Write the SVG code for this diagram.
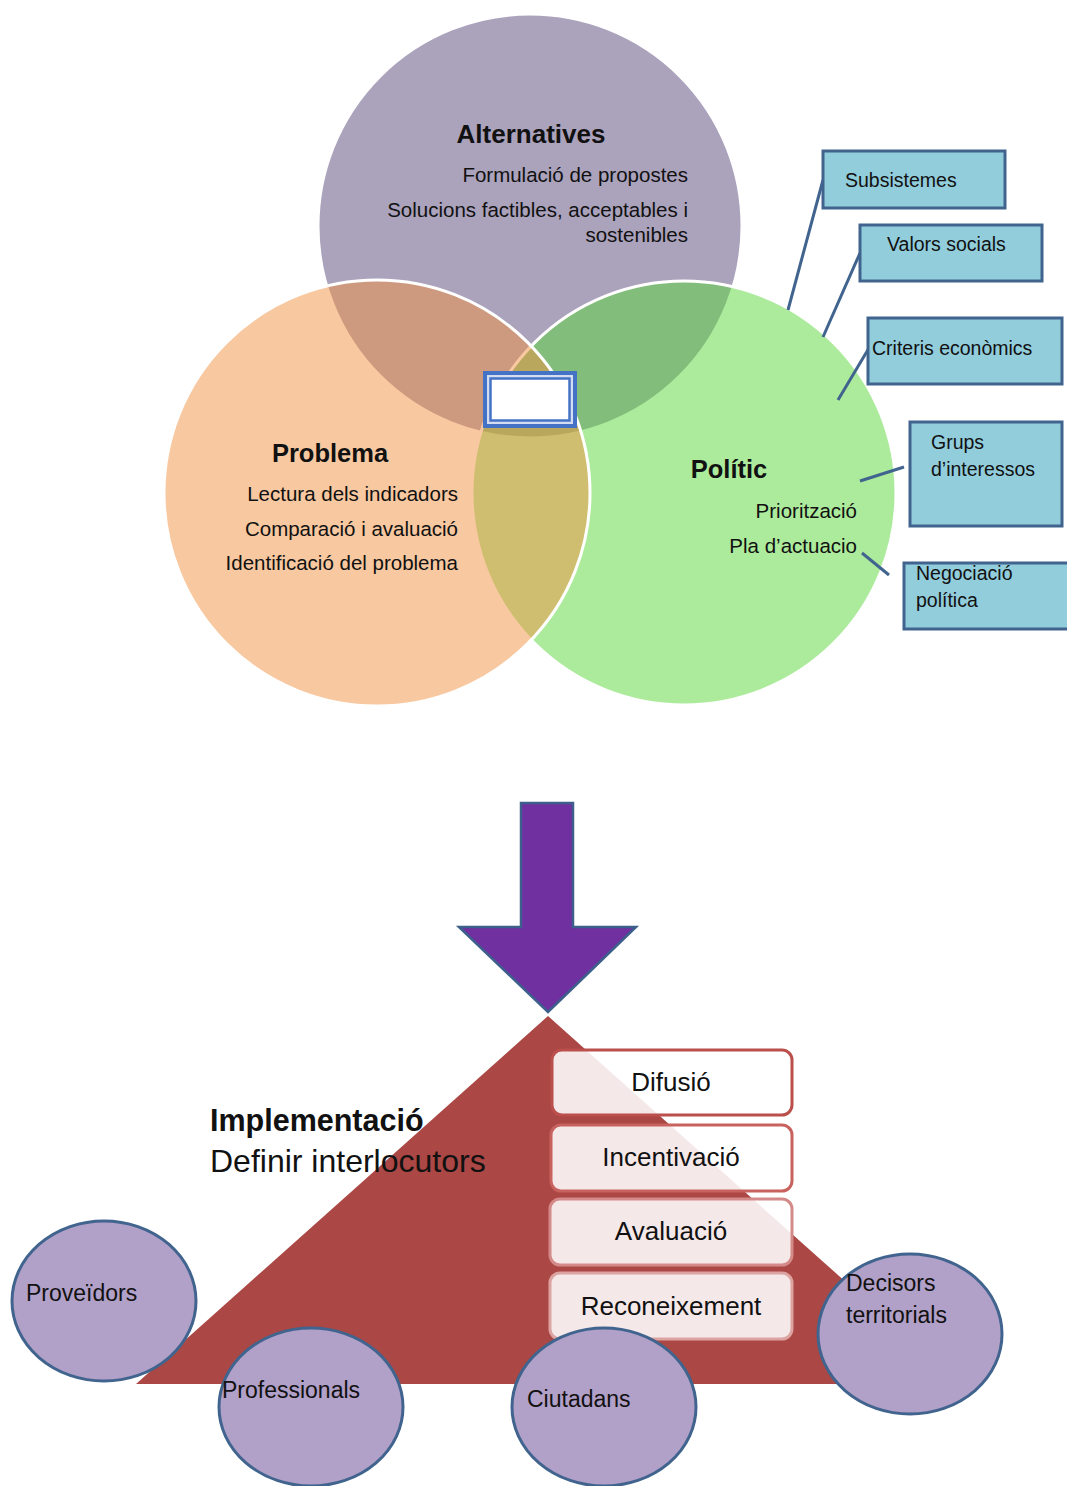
<svg xmlns="http://www.w3.org/2000/svg" width="1067" height="1486" viewBox="0 0 1067 1486">
<style>
text{font-family:"Liberation Sans",Arial,sans-serif;fill:#111}
.venn{fill-opacity:.5;stroke:#fff;stroke-width:3}
.hd{font-weight:bold;font-size:25.5px;text-anchor:middle}
.ln{font-size:20.5px;text-anchor:end}
.callout{fill:#92CDDC;stroke:#41648F;stroke-width:3}
.ct{font-size:19.5px}
.conn{stroke:#41648F;stroke-width:3;fill:none}
.actor{fill:#B1A0C7;stroke:#41648F;stroke-width:3}
.at{font-size:23px}
.step{fill:#fff;fill-opacity:.88;stroke-width:3}
.st{font-size:26px;text-anchor:middle}
</style>
<rect width="1067" height="1486" fill="#fff"/>
<g id="alternatives">
<circle class="venn" cx="530" cy="226" r="212" fill="#574579"/>
</g>
<g id="politic">
<circle class="venn" cx="684" cy="493" r="212" fill="#5BD739"/>
</g>
<g id="problema">
<circle class="venn" cx="377" cy="493" r="213" fill="#F19141"/>
</g>
<g id="alternatives-text">
<text class="hd" x="531" y="143" style="font-size:26px">Alternatives</text>
<text class="ln" x="688" y="182">Formulació de propostes</text>
<text class="ln" x="688" y="217">Solucions factibles, acceptables i</text>
<text class="ln" x="688" y="242">sostenibles</text>
</g>
<g id="problema-text">
<text class="hd" x="330" y="462">Problema</text>
<text class="ln" x="458" y="501">Lectura dels indicadors</text>
<text class="ln" x="458" y="536">Comparació i avaluació</text>
<text class="ln" x="458" y="570">Identificació del problema</text>
</g>
<g id="politic-text">
<text class="hd" x="729" y="478">Polític</text>
<text class="ln" x="857" y="518">Priorització</text>
<text class="ln" x="857" y="553">Pla d’actuacio</text>
</g>
<g id="center-box">
<rect x="483" y="371" width="94" height="57" fill="#4472C4"/>
<rect x="487" y="375" width="86" height="49" fill="#D4DCF2"/>
<rect x="490.5" y="378.5" width="79" height="42" fill="#fff" stroke="#4472C4" stroke-width="2.5"/>
</g>
<g id="connectors">
<line class="conn" x1="823" y1="180" x2="788" y2="310"/>
<line class="conn" x1="860" y1="253" x2="823" y2="337"/>
<line class="conn" x1="869" y1="348" x2="838" y2="400"/>
<line class="conn" x1="904" y1="467" x2="860" y2="481"/>
<line class="conn" x1="889" y1="575" x2="862" y2="553"/>
</g>
<g id="subsistemes">
<rect class="callout" x="823" y="151" width="182" height="57"/>
<text class="ct" x="845" y="187">Subsistemes</text>
</g>
<g id="valors-socials">
<rect class="callout" x="860" y="225" width="182" height="56"/>
<text class="ct" x="887" y="251">Valors socials</text>
</g>
<g id="criteris-economics">
<rect class="callout" x="868" y="318" width="194" height="66"/>
<text class="ct" x="872" y="355">Criteris econòmics</text>
</g>
<g id="grups-interessos">
<rect class="callout" x="910" y="422" width="152" height="104"/>
<text class="ct" x="931" y="449">Grups</text>
<text class="ct" x="931" y="476">d’interessos</text>
</g>
<g id="negociacio-politica">
<rect class="callout" x="904" y="563" width="170" height="66"/>
<text class="ct" x="916" y="580">Negociació</text>
<text class="ct" x="916" y="607">política</text>
</g>
<g id="arrow">
<polygon points="521,803 573,803 573,927 636,927 548,1012 459,927 521,927" fill="#7030A0" stroke="#3C5F8C" stroke-width="2.5"/>
</g>
<g id="pyramid">
<polygon points="548,1016 960,1384 136,1384" fill="#AB4744"/>
<text x="210" y="1131" style="font-weight:bold;font-size:30.5px">Implementació</text>
<text x="210" y="1172" style="font-size:32px">Definir interlocutors</text>
</g>
<g id="difusio">
<rect class="step" x="552" y="1050" width="240" height="65" rx="10" stroke="#BA4F4C"/>
<text class="st" x="671" y="1091">Difusió</text>
</g>
<g id="incentivacio">
<rect class="step" x="551" y="1125" width="241" height="66" rx="10" stroke="#C8625F"/>
<text class="st" x="671" y="1166">Incentivació</text>
</g>
<g id="avaluacio">
<rect class="step" x="550" y="1199" width="242" height="66" rx="10" stroke="#D48A88"/>
<text class="st" x="671" y="1240">Avaluació</text>
</g>
<g id="reconeixement">
<rect class="step" x="550" y="1273" width="242" height="66" rx="10" stroke="#DCA3A1"/>
<text class="st" x="671" y="1315">Reconeixement</text>
</g>
<g id="proveidors">
<ellipse class="actor" cx="104" cy="1301" rx="92" ry="80"/>
<text class="at" x="26" y="1301">Proveïdors</text>
</g>
<g id="professionals">
<ellipse class="actor" cx="311" cy="1407" rx="92" ry="79"/>
<text class="at" x="222" y="1398">Professionals</text>
</g>
<g id="ciutadans">
<ellipse class="actor" cx="604" cy="1407" rx="92" ry="79"/>
<text class="at" x="527" y="1407">Ciutadans</text>
</g>
<g id="decisors-territorials">
<ellipse class="actor" cx="910" cy="1334" rx="92" ry="80"/>
<text class="at" x="846" y="1291">Decisors</text>
<text class="at" x="846" y="1323">territorials</text>
</g>
</svg>
